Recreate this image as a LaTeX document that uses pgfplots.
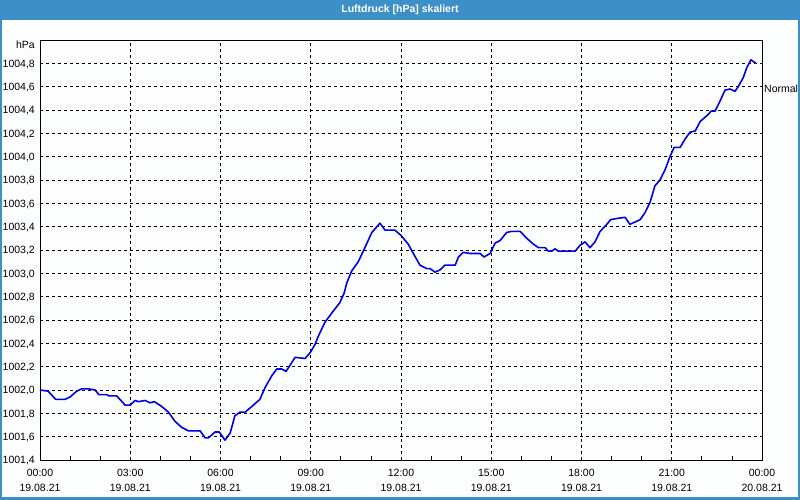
\documentclass[border=0pt]{standalone}
\usepackage{pgfplots}
\pgfplotsset{compat=1.18}
\usepackage{fontspec}
\setmainfont{Liberation Sans}
\definecolor{titleblue}{RGB}{61,144,199}
\definecolor{bgwhite}{RGB}{252,254,253}
\definecolor{lineblue}{RGB}{0,0,230}
\begin{document}
\begin{tikzpicture}[x=1pt,y=1pt]
\fill[titleblue] (0,0) rectangle (800,500);
\fill[bgwhite] (1.5,2.5) rectangle (797.5,480);
\node[font=\bfseries\fontsize{10.5}{13}\selectfont, text=white] at (400,490) {Luftdruck [hPa] skaliert};
\begin{axis}[
  at={(40pt,40pt)}, anchor=south west,
  scale only axis, width=722pt, height=420pt,
  xmin=0, xmax=24, ymin=1001.4, ymax=1005,
  xtick={0,3,6,9,12,15,18,21,24},
  minor xtick={1,2,4,5,7,8,10,11,13,14,16,17,19,20,22,23},
  xticklabels={00:00\\19.08.21,03:00\\19.08.21,06:00\\19.08.21,09:00\\19.08.21,12:00\\19.08.21,15:00\\19.08.21,18:00\\19.08.21,21:00\\19.08.21,00:00\\20.08.21},
  xticklabel style={align=center, font=\fontsize{10.5}{15}\selectfont, inner sep=0pt, yshift=-9pt},
  ytick={1001.4,1001.6,1001.8,1002.0,1002.2,1002.4,1002.6,1002.8,1003.0,1003.2,1003.4,1003.6,1003.8,1004.0,1004.2,1004.4,1004.6,1004.8},
  yticklabel style={font=\fontsize{10.5}{13}\selectfont, inner sep=0pt, xshift=-5pt, yshift=-1pt,
    /pgf/number format/.cd, use comma, fixed, fixed zerofill, precision=1, 1000 sep={}, assume math mode=true},
  grid=major,
  major grid style={black, dash pattern=on 3pt off 3pt, line width=0.8pt},
  axis line style={black, line width=0.9pt},
  tick align=inside,
  major tick length=0pt, minor tick length=4pt,
  tick style={black, line width=0.8pt},
  xtick pos=lower, ytick pos=left,
  ytick style={draw=none},
  clip=false,
]
\addplot[lineblue, line width=1.6pt, line join=round] coordinates {
(0.00,1002.00) (0.27,1001.99) (0.52,1001.92) (0.83,1001.92) (1.00,1001.94)
(1.22,1001.99) (1.39,1002.01) (1.61,1002.01) (1.83,1002.00) (1.96,1001.96)
(2.22,1001.96) (2.29,1001.95) (2.55,1001.95) (2.83,1001.87) (2.99,1001.87)
(3.16,1001.91) (3.27,1001.90) (3.49,1001.91) (3.66,1001.89) (3.80,1001.90)
(4.04,1001.86) (4.27,1001.81) (4.49,1001.73) (4.71,1001.68) (4.93,1001.65)
(5.32,1001.65) (5.49,1001.59) (5.60,1001.59) (5.82,1001.64) (5.96,1001.64)
(6.15,1001.57) (6.32,1001.63) (6.48,1001.78) (6.65,1001.81) (6.82,1001.81)
(7.09,1001.87) (7.31,1001.92) (7.48,1002.02) (7.70,1002.12) (7.87,1002.18)
(8.03,1002.18) (8.18,1002.16) (8.48,1002.28) (8.81,1002.27) (8.98,1002.32)
(9.14,1002.39) (9.25,1002.46) (9.47,1002.58) (9.70,1002.66) (9.97,1002.75)
(10.11,1002.83) (10.20,1002.92) (10.36,1003.02) (10.58,1003.10) (10.80,1003.22)
(11.03,1003.35) (11.30,1003.43) (11.47,1003.37) (11.80,1003.37) (12.02,1003.32)
(12.24,1003.25) (12.41,1003.17) (12.63,1003.07) (12.86,1003.04) (12.97,1003.04)
(13.13,1003.01) (13.30,1003.03) (13.46,1003.07) (13.80,1003.07) (13.91,1003.14)
(14.07,1003.18) (14.30,1003.17) (14.63,1003.17) (14.76,1003.14) (14.96,1003.17)
(15.13,1003.26) (15.29,1003.28) (15.51,1003.35) (15.68,1003.36) (15.96,1003.36)
(16.18,1003.30) (16.40,1003.25) (16.57,1003.22) (16.79,1003.22) (16.90,1003.19)
(17.01,1003.19) (17.12,1003.21) (17.23,1003.19) (17.79,1003.19) (17.95,1003.24)
(18.12,1003.27) (18.28,1003.22) (18.45,1003.27) (18.62,1003.36) (18.84,1003.42)
(18.97,1003.46) (19.17,1003.47) (19.45,1003.48) (19.61,1003.42) (19.78,1003.44)
(19.95,1003.46) (20.11,1003.52) (20.28,1003.61) (20.44,1003.75) (20.61,1003.80)
(20.78,1003.89) (20.94,1004.00) (21.08,1004.08) (21.28,1004.08) (21.44,1004.15)
(21.61,1004.21) (21.78,1004.22) (21.94,1004.30) (22.16,1004.35) (22.31,1004.39)
(22.44,1004.39) (22.61,1004.48) (22.77,1004.57) (22.94,1004.58) (23.10,1004.56)
(23.21,1004.60) (23.38,1004.68) (23.49,1004.76) (23.63,1004.83) (23.80,1004.80)
};
\node[anchor=east, inner sep=0pt, font=\fontsize{10.5}{13}\selectfont] at ([xshift=-5pt,yshift=-5pt]rel axis cs:0,1) {hPa};
\node[anchor=west, inner sep=0pt, font=\fontsize{10.5}{13}\selectfont] at ([xshift=2pt,yshift=-2pt]axis cs:24,1004.6) {Normal};
\end{axis}
\end{tikzpicture}
\end{document}
